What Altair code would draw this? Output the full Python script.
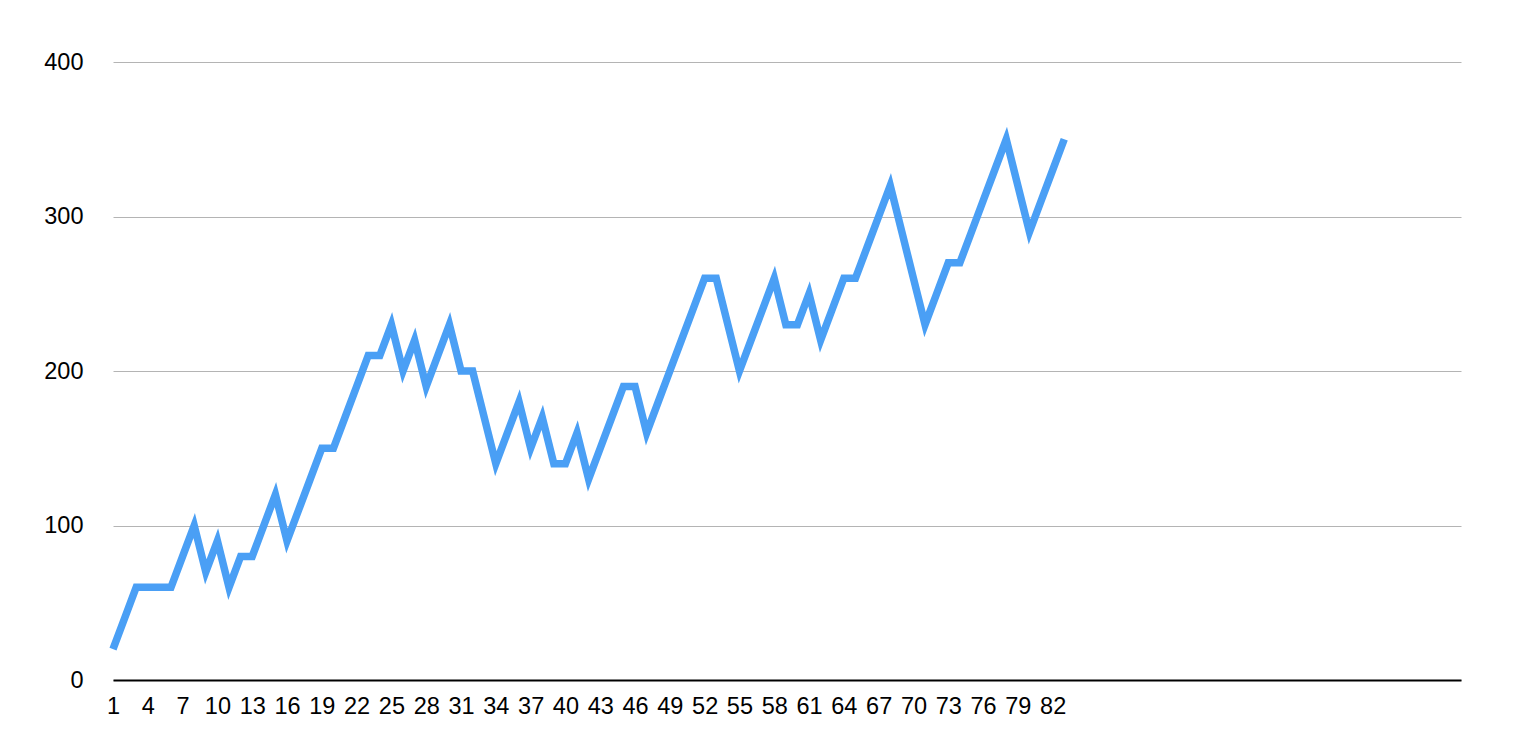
import altair as alt
import pandas as pd

x_values = list(range(1, 84))
y_values = [
    20, 40, 60, 60, 60, 60, 80, 100, 70, 90,
    60, 80, 80, 100, 120, 90, 110, 130, 150, 150,
    170, 190, 210, 210, 230, 200, 220, 190, 210, 230,
    200, 200, 170, 140, 160, 180, 150, 170, 140, 140,
    160, 130, 150, 170, 190, 190, 160, 180, 200, 220,
    240, 260, 260, 230, 200, 220, 240, 260, 230, 230,
    250, 220, 240, 260, 260, 280, 300, 320, 290, 260,
    230, 250, 270, 270, 290, 310, 330, 350, 320, 290,
    310, 330, 350,
]
x_tick_values = list(range(1, 83, 3))
y_tick_values = [0, 100, 200, 300, 400]

df = pd.DataFrame({"x": x_values, "y": y_values})

FONT = "Liberation Sans"

chart = (
    alt.Chart(df)
    .mark_line(color="#4a9ff5", strokeWidth=7.5, strokeJoin="miter", strokeCap="butt", strokeMiterLimit=10)
    .encode(
        x=alt.X(
            "x:Q",
            scale=alt.Scale(domain=[1, 117.2], nice=False, zero=False),
            axis=alt.Axis(
                values=x_tick_values,
                title=None,
                grid=False,
                ticks=False,
                domain=True,
                domainColor="#000000",
                domainWidth=2,
                labelFont=FONT,
                labelFontSize=23.5,
                labelColor="#000000",
                labelPadding=14,
                labelFlush=False,
                labelOverlap=False,
                format="d",
            ),
        ),
        y=alt.Y(
            "y:Q",
            scale=alt.Scale(domain=[0, 400], nice=False),
            axis=alt.Axis(
                values=y_tick_values,
                title=None,
                grid=True,
                gridColor="#b4b4b4",
                gridWidth=1,
                ticks=False,
                domain=False,
                labelFont=FONT,
                labelFontSize=23.5,
                labelColor="#000000",
                labelPadding=30,
                labelFlush=False,
                format="d",
            ),
        ),
    )
    .properties(
        width=1348,
        height=618,
        autosize=alt.AutoSizeParams(type="none"),
        padding={"left": 105, "top": 54, "right": 50, "bottom": 60},
    )
    .configure(background="#ffffff")
    .configure_view(strokeWidth=0, stroke=None)
)

chart.save("out.html", embed_options={"renderer": "svg", "actions": False})
